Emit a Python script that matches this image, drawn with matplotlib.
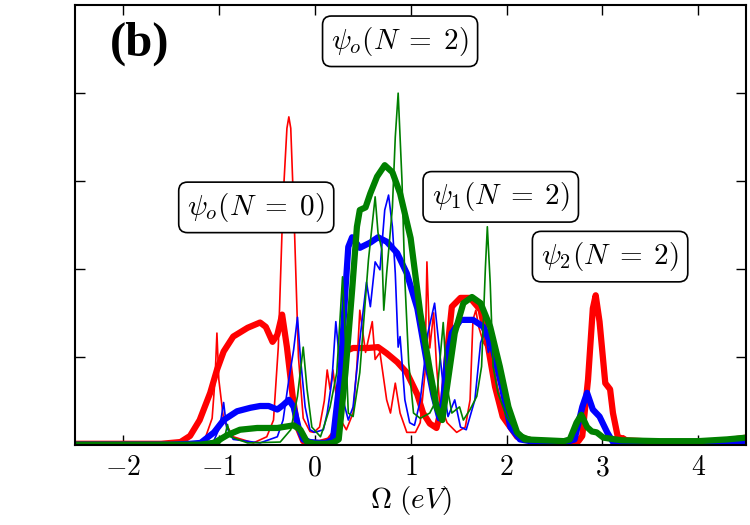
import matplotlib
matplotlib.use("Agg")
import matplotlib.pyplot as plt

plt.rcParams['mathtext.fontset'] = 'cm'
plt.rcParams['font.family'] = 'serif'

# spectra (x = Omega in eV)
red_thick_x = [-2.5, -1.6, -1.4, -1.3, -1.2, -1.09, -1.02, -0.95, -0.85, -0.70, -0.57, -0.51, -0.44, -0.39,
               -0.34, -0.29, -0.23, -0.18, -0.12, -0.05, 0.05, 0.15, 0.22, 0.27, 0.30, 0.33, 0.40, 0.55, 0.66,
               0.75, 0.86, 0.96, 1.07, 1.13, 1.20, 1.27, 1.34, 1.39, 1.43, 1.52, 1.62, 1.73, 1.80, 1.88, 1.96,
               2.11, 2.3, 2.6, 2.75, 2.79, 2.85, 2.90, 2.93, 2.97, 3.03, 3.08, 3.11, 3.16, 3.25, 3.6, 4.0, 4.3, 4.5]
red_thick_y = [0.01, 0.01, 0.03, 0.1, 0.28, 0.59, 0.85, 1.06, 1.23, 1.33, 1.39, 1.34, 1.17, 1.25,
               1.48, 1.11, 0.55, 0.2, 0.04, 0.02, 0.02, 0.05, 0.15, 0.43, 0.85, 1.07, 1.10, 1.10, 1.11,
               1.04, 0.94, 0.82, 0.57, 0.36, 0.24, 0.19, 0.5, 1.15, 1.57, 1.67, 1.67, 1.53, 1.16, 0.66, 0.32,
               0.09, 0.04, 0.03, 0.04, 0.1, 0.74, 1.55, 1.70, 1.40, 0.70, 0.63, 0.36, 0.09, 0.05, 0.03, 0.03, 0.05, 0.08]

red_thin_x = [-2.5, -1.3, -1.15, -1.07, -1.04, -1.02, -1.0, -0.95, -0.85, -0.64, -0.5, -0.43, -0.38, -0.33,
              -0.29, -0.27, -0.25, -0.21, -0.17, -0.12, -0.05, -0.01, 0.05, 0.10, 0.13, 0.16, 0.19, 0.25, 0.33,
              0.40, 0.44, 0.47, 0.53, 0.60, 0.63, 0.68, 0.75, 0.79, 0.84, 0.89, 0.96, 1.05, 1.10, 1.15, 1.17,
              1.20, 1.24, 1.27, 1.30, 1.38, 1.48, 1.57, 1.62, 1.65, 1.68, 1.71, 1.76, 1.83, 1.90, 1.97, 2.07,
              2.17, 2.5, 2.75, 2.8, 2.86, 2.92, 2.97, 3.02, 3.07, 3.11, 3.15, 3.22, 3.3, 3.6, 4.0, 4.5]
red_thin_y = [0.0, 0.01, 0.05, 0.3, 0.74, 1.27, 0.74, 0.28, 0.09, 0.02, 0.09, 0.28, 1.11, 2.8,
              3.6, 3.73, 3.6, 2.4, 1.0, 0.3, 0.15, 0.14, 0.2, 0.5, 0.85, 0.63, 0.85, 0.32, 0.17,
              0.36, 0.9, 1.53, 1.05, 1.40, 0.97, 1.05, 0.51, 0.36, 0.70, 0.36, 0.14, 0.14, 0.25, 0.82, 2.08,
              1.1, 1.5, 0.9, 0.5, 0.25, 0.14, 0.2, 0.51, 1.42, 1.53, 1.34, 1.16, 1.05, 0.66, 0.36, 0.14,
              0.06, 0.02, 0.03, 0.08, 0.8, 1.68, 1.35, 0.75, 0.65, 0.3, 0.08, 0.1, 0.04, 0.02, 0.03, 0.05]

blue_thick_x = [-2.5, -1.5, -1.3, -1.19, -1.05, -0.95, -0.81, -0.67, -0.57, -0.48, -0.39, -0.33, -0.27, -0.22,
                -0.17, -0.12, -0.05, 0.05, 0.12, 0.19, 0.27, 0.32, 0.35, 0.39, 0.47, 0.58, 0.66, 0.75, 0.86,
                0.96, 1.07, 1.17, 1.24, 1.30, 1.34, 1.38, 1.43, 1.52, 1.65, 1.76, 1.86, 1.95, 2.04, 2.14, 2.3,
                2.6, 2.71, 2.79, 2.84, 2.90, 2.97, 3.05, 3.11, 3.2, 3.6, 4.0, 4.5]
blue_thick_y = [0.0, 0.0, 0.01, 0.02, 0.14, 0.28, 0.38, 0.42, 0.44, 0.44, 0.40, 0.45, 0.51, 0.43,
                0.2, 0.06, 0.03, 0.02, 0.02, 0.06, 0.82, 1.76, 2.25, 2.36, 2.24, 2.30, 2.36, 2.31, 2.18,
                1.95, 1.55, 0.93, 0.55, 0.3, 0.5, 1.0, 1.27, 1.42, 1.42, 1.34, 1.08, 0.66, 0.2, 0.06, 0.03,
                0.02, 0.06, 0.43, 0.59, 0.40, 0.32, 0.14, 0.03, 0.02, 0.01, 0.02, 0.02]

blue_thin_x = [-2.5, -1.2, -1.05, -0.99, -0.95, -0.92, -0.85, -0.57, -0.39, -0.33, -0.27, -0.22, -0.18, -0.15,
               -0.10, -0.05, 0.0, 0.09, 0.13, 0.18, 0.22, 0.27, 0.31, 0.35, 0.40, 0.47, 0.54, 0.58, 0.63,
               0.68, 0.73, 0.77, 0.81, 0.84, 0.87, 0.89, 0.94, 0.99, 1.04, 1.10, 1.18, 1.25, 1.29, 1.34, 1.39,
               1.46, 1.52, 1.58, 1.67, 1.73, 1.78, 1.81, 1.85, 1.90, 1.97, 2.04, 2.14, 2.4, 2.7, 2.78, 2.84,
               2.90, 2.97, 3.05, 3.12, 3.3, 4.0, 4.5]
blue_thin_y = [0.0, 0.01, 0.05, 0.2, 0.48, 0.2, 0.06, 0.02, 0.09, 0.28, 0.74, 1.08, 1.45, 1.0,
               0.43, 0.17, 0.14, 0.17, 0.36, 0.74, 1.40, 0.82, 0.45, 0.28, 0.43, 1.19, 1.85, 1.57, 2.08,
               1.99, 2.67, 2.84, 2.48, 1.95, 1.11, 1.23, 0.51, 0.25, 0.22, 0.5, 1.27, 1.61, 1.19, 0.66, 0.32,
               0.51, 0.2, 0.17, 0.51, 1.16, 1.31, 1.05, 1.19, 0.89, 0.51, 0.2, 0.06, 0.02, 0.03, 0.3, 0.55,
               0.42, 0.3, 0.12, 0.03, 0.02, 0.02, 0.03]

green_thick_x = [-2.5, -1.2, -1.05, -0.91, -0.78, -0.6, -0.39, -0.22, -0.15, -0.08, 0.0, 0.12, 0.19, 0.25,
                 0.32, 0.39, 0.44, 0.47, 0.53, 0.58, 0.65, 0.73, 0.81, 0.89, 1.0, 1.1, 1.2, 1.27, 1.33, 1.38,
                 1.46, 1.55, 1.64, 1.73, 1.83, 1.93, 2.02, 2.11, 2.19, 2.4, 2.6, 2.66, 2.73, 2.78, 2.84, 2.89,
                 2.94, 3.01, 3.2, 3.6, 4.0, 4.3, 4.5]
green_thick_y = [0.0, 0.0, 0.02, 0.11, 0.17, 0.19, 0.19, 0.22, 0.17, 0.03, 0.01, 0.01, 0.02, 0.06,
                 0.82, 1.76, 2.48, 2.67, 2.70, 2.86, 3.05, 3.18, 3.10, 2.86, 2.35, 1.5, 0.85, 0.43, 0.28, 0.66,
                 1.27, 1.61, 1.68, 1.61, 1.34, 0.89, 0.43, 0.14, 0.06, 0.05, 0.04, 0.06, 0.25, 0.34, 0.2, 0.15,
                 0.14, 0.08, 0.05, 0.04, 0.04, 0.06, 0.08]

green_thin_x = [-2.5, -1.0, -0.94, -0.91, -0.88, -0.7, -0.36, -0.25, -0.18, -0.12, -0.08, -0.03, 0.06, 0.10,
                0.16, 0.23, 0.29, 0.32, 0.35, 0.40, 0.47, 0.56, 0.63, 0.66, 0.70, 0.72, 0.75, 0.81, 0.84, 0.87,
                0.91, 0.94, 0.98, 1.03, 1.1, 1.2, 1.27, 1.34, 1.38, 1.43, 1.51, 1.55, 1.62, 1.69, 1.74, 1.78,
                1.80, 1.83, 1.86, 1.91, 2.0, 2.1, 2.3, 2.65, 2.72, 2.78, 2.84, 2.9, 2.95, 3.02, 3.2, 4.0, 4.5]
green_thin_y = [0.0, 0.01, 0.08, 0.23, 0.09, 0.02, 0.03, 0.17, 0.55, 1.11, 0.63, 0.2, 0.09, 0.22,
                0.43, 0.82, 1.91, 1.19, 0.36, 0.32, 0.82, 2.1, 2.82, 2.41, 2.22, 1.53, 1.95, 2.7, 3.5, 4.0,
                3.0, 1.87, 0.93, 0.36, 0.3, 0.36, 0.51, 1.39, 0.66, 0.36, 0.43, 0.28, 0.4, 0.55, 0.89, 2.02,
                2.48, 1.84, 0.89, 0.59, 0.32, 0.14, 0.06, 0.05, 0.15, 0.3, 0.18, 0.14, 0.12, 0.07, 0.05, 0.04, 0.08]

x_ticks = [-2, -1, 0, 1, 2, 3, 4]
labels = [r'$\psi_o(N\;=\;2)$', r'$\psi_o(N\;=\;0)$', r'$\psi_1(N\;=\;2)$', r'$\psi_2(N\;=\;2)$']
label_x = [0.89, -0.61, 1.94, 3.08]
label_y = [4.59, 2.70, 2.82, 2.14]

fig, ax = plt.subplots(figsize=(7.5, 5.25), dpi=100)
fig.subplots_adjust(left=0.1, right=0.995, top=0.99, bottom=0.153)

thick = 4.5
thin = 1.2
ax.plot(red_thick_x, red_thick_y, color='red', lw=thick)
ax.plot(red_thin_x, red_thin_y, color='red', lw=thin)
ax.plot(blue_thick_x, blue_thick_y, color='blue', lw=thick)
ax.plot(blue_thin_x, blue_thin_y, color='blue', lw=thin)
ax.plot(green_thick_x, green_thick_y, color='green', lw=thick)
ax.plot(green_thin_x, green_thin_y, color='green', lw=thin)

ax.set_xlim(-2.5, 4.5)
ax.set_ylim(0, 5)
ax.set_xticks(x_ticks)
ax.set_xticklabels([r'$%d$' % t for t in x_ticks], fontsize=20)
ax.set_yticks([1, 2, 3, 4])
ax.set_yticklabels([])
ax.tick_params(direction='in', length=7, width=1, top=True, right=True, pad=7)
for s in ax.spines.values():
    s.set_linewidth(1.5)
ax.set_xlabel(r'$\Omega\ (eV)$', fontsize=21, labelpad=2)

for txt, lx, ly in zip(labels, label_x, label_y):
    ax.text(lx, ly, txt, fontsize=21, ha='center', va='center', zorder=5,
            bbox=dict(boxstyle='round,pad=0.3', fc='white', ec='black', lw=1.2))

ax.text(-1.83, 4.56, '(b)', fontsize=35, fontweight='bold', family='Liberation Serif',
        ha='center', va='center')

fig.savefig('out.png', dpi=100)
